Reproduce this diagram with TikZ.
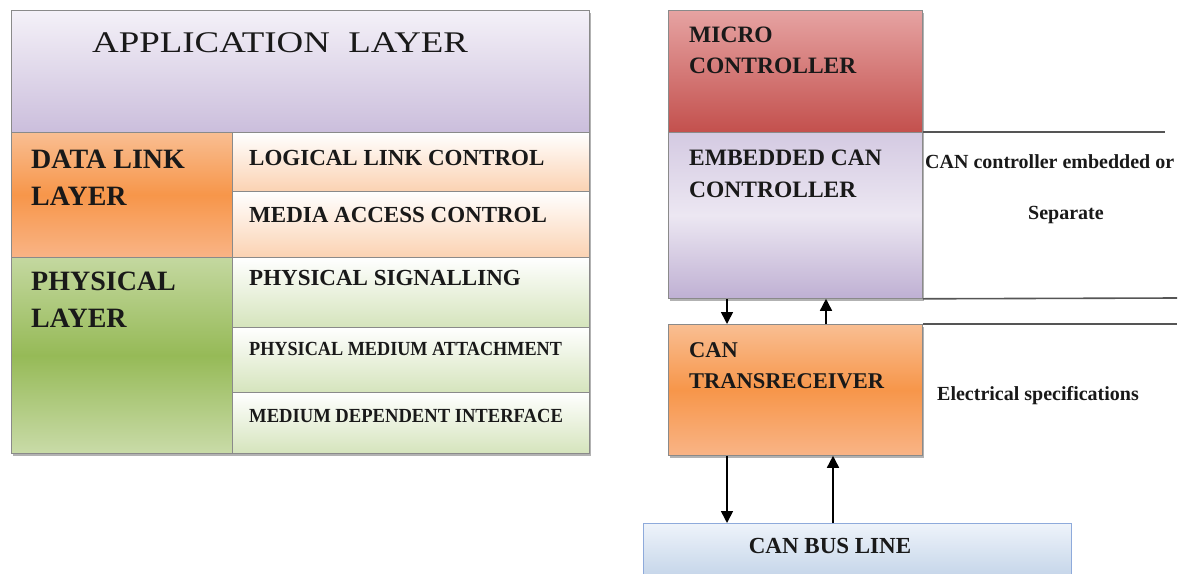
\documentclass[tikz,border=0pt]{standalone}
\usepackage{fontspec}
\setmainfont{Liberation Serif}
\usepackage{graphicx}
\usetikzlibrary{arrows.meta,shadows}
\definecolor{appTop}{HTML}{F4F1F8}
\definecolor{appBot}{HTML}{CBBEDC}
\definecolor{orTop}{HTML}{F9BE92}
\definecolor{orMid}{HTML}{F7964A}
\definecolor{orBot}{HTML}{F9B486}
\definecolor{peach}{HTML}{FBD2B2}
\definecolor{grTop}{HTML}{C4D8A0}
\definecolor{grMid}{HTML}{96BA57}
\definecolor{grBot}{HTML}{C9DBA8}
\definecolor{lgreen}{HTML}{D5E4BC}
\definecolor{rdTop}{HTML}{E6A3A2}
\definecolor{rdBot}{HTML}{C3504D}
\definecolor{lvTop}{HTML}{D4CAE2}
\definecolor{lvMid}{HTML}{ECE7F2}
\definecolor{lvBot}{HTML}{BFB0D3}
\definecolor{buTop}{HTML}{EEF3FA}
\definecolor{buBot}{HTML}{B8CCE4}
\definecolor{buLine}{HTML}{8EAADB}
\definecolor{edge}{HTML}{8A8A8A}
\definecolor{sepc}{HTML}{555555}
\newcommand{\fsz}[1]{\fontsize{#1}{#1}\selectfont}
\tikzset{
  cell/.style={rectangle, draw=edge, line width=0.8pt, inner sep=0pt, anchor=north west},
  txt/.style={anchor=base west, inner sep=0pt, text=black!90},
  arr/.style={line width=1.6pt, -{Triangle[width=12pt,length=12pt]}},
  sepline/.style={line width=1.6pt, draw=sepc},
  shad/.style={drop shadow={shadow xshift=2pt, shadow yshift=-3pt, opacity=0.6}}
}
\begin{document}
\begin{tikzpicture}[x=1pt,y=-1pt]
\clip (0,0) rectangle (1185,573);
\fill[white] (0,0) rectangle (1185,573);
% ---------- left block ----------
\node[cell, fill=white, shad, minimum width=578pt, minimum height=443pt] (frame) at (11,10) {};
\node[cell, top color=appTop, bottom color=appBot, minimum width=578pt, minimum height=122pt] (app) at (11,10) {};
\node[cell, top color=orTop, bottom color=orBot, middle color=orMid, minimum width=221pt, minimum height=125pt] (dl) at (11,132) {};
\node[cell, top color=white, bottom color=peach, minimum width=357pt, minimum height=59pt] (llc) at (232,132) {};
\node[cell, top color=white, bottom color=peach, minimum width=357pt, minimum height=66pt] (mac) at (232,191) {};
\node[cell, top color=grTop, bottom color=grBot, middle color=grMid, minimum width=221pt, minimum height=196pt] (ph) at (11,257) {};
\node[cell, top color=white, bottom color=lgreen, minimum width=357pt, minimum height=70pt] (ps) at (232,257) {};
\node[cell, top color=white, bottom color=lgreen, minimum width=357pt, minimum height=65pt] (pma) at (232,327) {};
\node[cell, top color=white, bottom color=lgreen, minimum width=357pt, minimum height=61pt] (mdi) at (232,392) {};

\node[txt, font=\fsz{30}] (tApp) at (92,52) {\scalebox{1.23}[1]{APPLICATION\ \ LAYER}};
\node[txt, font=\fsz{28}\bfseries] (tDL1) at (31,168) {DATA LINK};
\node[txt, font=\fsz{28}\bfseries] (tDL2) at (31,205) {LAYER};
\node[txt, font=\fsz{23}\bfseries] (tLLC) at (249,165) {LOGICAL LINK CONTROL};
\node[txt, font=\fsz{23}\bfseries] (tMAC) at (249,222) {MEDIA ACCESS CONTROL};
\node[txt, font=\fsz{28}\bfseries] (tPH1) at (31,290) {PHYSICAL};
\node[txt, font=\fsz{28}\bfseries] (tPH2) at (31,327) {LAYER};
\node[txt, font=\fsz{23}\bfseries] (tPS) at (249,285) {PHYSICAL SIGNALLING};
\node[txt, font=\fsz{20}\bfseries] (tPMA) at (249,355) {\scalebox{0.91}[1]{PHYSICAL MEDIUM ATTACHMENT}};
\node[txt, font=\fsz{20}\bfseries] (tMDI) at (249,422) {\scalebox{0.93}[1]{MEDIUM DEPENDENT INTERFACE}};

% ---------- right block ----------
\node[cell, fill=white, shad, minimum width=254pt, minimum height=288pt] (rframe) at (668,10) {};
\node[cell, top color=rdTop, bottom color=rdBot, minimum width=254pt, minimum height=122pt] (mc) at (668,10) {};
\node[cell, top color=lvTop, bottom color=lvBot, middle color=lvMid, minimum width=254pt, minimum height=166pt] (ecc) at (668,132) {};
\node[cell, top color=orTop, bottom color=orBot, middle color=orMid, shad, minimum width=254pt, minimum height=131pt] (tr) at (668,324) {};
\node[cell, draw=buLine, top color=buTop, bottom color=buBot, minimum width=428pt, minimum height=70pt] (bus) at (643,523) {};

\node[txt, font=\fsz{23.5}\bfseries] (tMC1) at (689,42) {MICRO};
\node[txt, font=\fsz{23.5}\bfseries] (tMC2) at (689,73) {CONTROLLER};
\node[txt, font=\fsz{23.5}\bfseries] (tE1) at (689,165) {EMBEDDED CAN};
\node[txt, font=\fsz{23.5}\bfseries] (tE2) at (689,197) {CONTROLLER};
\node[txt, font=\fsz{22.5}\bfseries] (tT1) at (689,357) {CAN};
\node[txt, font=\fsz{22.5}\bfseries] (tT2) at (689,388) {TRANSRECEIVER};
\node[txt, anchor=base, font=\fsz{23}\bfseries] (tBus) at (830,553) {CAN BUS LINE};

\node[txt, font=\fsz{20}\bfseries] (tCan) at (925,168) {CAN controller embedded or};
\node[txt, anchor=base, font=\fsz{20}\bfseries] (tSep) at (1066,219) {Separate};
\node[txt, font=\fsz{20}\bfseries] (tElec) at (937,400) {Electrical specifications};

\coordinate (r1) at (1165,132);
\coordinate (r2) at (1177,298);
\coordinate (r3) at (1177,324);
\draw[sepline] (ecc.north east) -- (r1);
\draw[sepline] (ecc.south east) -- (r2);
\draw[sepline] (tr.north east) -- (r3);

\coordinate (ax1) at (727,0);
\coordinate (ax2) at (826,0);
\coordinate (ax3) at (833,0);
\draw[arr] (ecc.south -| ax1) -- (tr.north -| ax1);
\draw[arr] (tr.north -| ax2) -- (ecc.south -| ax2);
\draw[arr] (tr.south -| ax1) -- (bus.north -| ax1);
\draw[arr] (bus.north -| ax3) -- (tr.south -| ax3);
\end{tikzpicture}
\end{document}
